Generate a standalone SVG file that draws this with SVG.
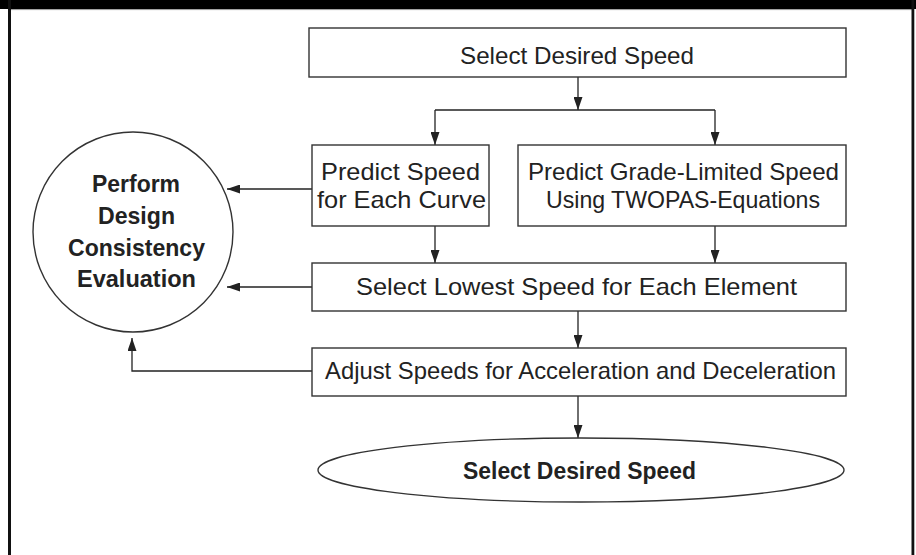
<svg xmlns="http://www.w3.org/2000/svg" width="916" height="555" viewBox="0 0 916 555">
<style>
.box{fill:#fff;stroke:#333;stroke-width:1.4}
.ln{fill:none;stroke:#222;stroke-width:1.3}
.t{font-family:"Liberation Sans",Arial,sans-serif;font-size:24px;fill:#222;text-anchor:middle}
.b{font-weight:bold}
</style>
<defs>
<marker id="ah" markerUnits="userSpaceOnUse" markerWidth="13" markerHeight="9" refX="13" refY="4.5" orient="auto">
<path d="M0,0 L13,4.5 L0,9 z" fill="#222"/>
</marker>
</defs>
<rect x="0" y="0" width="916" height="555" fill="#fff"/>
<g id="frame">
<rect x="0" y="0" width="916" height="9" fill="#000"/>
<line x1="11" y1="9.6" x2="912" y2="9.6" stroke="#999" stroke-width="1"/>
<rect x="8" y="0" width="3" height="555" fill="#111"/>
<rect x="911.5" y="0" width="2.8" height="555" fill="#111"/>
</g>
<g id="connectors">
<line class="ln" x1="578" y1="77" x2="578" y2="110" marker-end="url(#ah)"/>
<line class="ln" x1="435" y1="110" x2="715" y2="110"/>
<line class="ln" x1="435" y1="110" x2="435" y2="145" marker-end="url(#ah)"/>
<line class="ln" x1="715" y1="110" x2="715" y2="145" marker-end="url(#ah)"/>
<line class="ln" x1="435" y1="226" x2="435" y2="263" marker-end="url(#ah)"/>
<line class="ln" x1="715" y1="226" x2="715" y2="263" marker-end="url(#ah)"/>
<line class="ln" x1="578" y1="311" x2="578" y2="348" marker-end="url(#ah)"/>
<line class="ln" x1="578" y1="396" x2="578" y2="438" marker-end="url(#ah)"/>
<line class="ln" x1="312" y1="189" x2="227" y2="189" marker-end="url(#ah)"/>
<line class="ln" x1="312" y1="287" x2="227" y2="287" marker-end="url(#ah)"/>
<polyline class="ln" points="312,371 132,371 132,338" marker-end="url(#ah)"/>
</g>
<g id="n-top">
<rect class="box" x="309" y="28" width="537" height="49"/>
<text class="t" x="577" y="64" textLength="234" lengthAdjust="spacingAndGlyphs">Select Desired Speed</text>
</g>
<g id="n-curve">
<rect class="box" x="312" y="145" width="177" height="81"/>
<text class="t" x="400.5" y="180" textLength="159" lengthAdjust="spacingAndGlyphs">Predict Speed</text>
<text class="t" x="401.5" y="208" textLength="169" lengthAdjust="spacingAndGlyphs">for Each Curve</text>
</g>
<g id="n-grade">
<rect class="box" x="518" y="145" width="328" height="81"/>
<text class="t" x="683.5" y="180" textLength="311" lengthAdjust="spacingAndGlyphs">Predict Grade-Limited Speed</text>
<text class="t" x="683" y="208" textLength="274" lengthAdjust="spacingAndGlyphs">Using TWOPAS-Equations</text>
</g>
<g id="n-lowest">
<rect class="box" x="312" y="263" width="534" height="48"/>
<text class="t" x="576.5" y="295" textLength="441" lengthAdjust="spacingAndGlyphs">Select Lowest Speed for Each Element</text>
</g>
<g id="n-adjust">
<rect class="box" x="312" y="348" width="534" height="48"/>
<text class="t" x="580.5" y="379" textLength="511" lengthAdjust="spacingAndGlyphs">Adjust Speeds for Acceleration and Deceleration</text>
</g>
<g id="n-end">
<ellipse class="box" cx="581" cy="470" rx="263" ry="32"/>
<text class="t b" x="579.5" y="479" textLength="233" lengthAdjust="spacingAndGlyphs">Select Desired Speed</text>
</g>
<g id="n-eval">
<circle class="box" cx="133" cy="232" r="100"/>
<text class="t b" x="136" y="192" textLength="88" lengthAdjust="spacingAndGlyphs">Perform</text>
<text class="t b" x="136.5" y="224" textLength="77" lengthAdjust="spacingAndGlyphs">Design</text>
<text class="t b" x="136.5" y="256" textLength="137" lengthAdjust="spacingAndGlyphs">Consistency</text>
<text class="t b" x="136.5" y="287" textLength="119" lengthAdjust="spacingAndGlyphs">Evaluation</text>
</g>
</svg>
